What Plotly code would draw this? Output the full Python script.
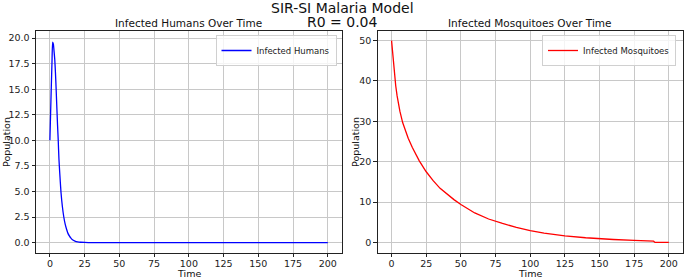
import plotly.graph_objects as go

# Data
t_humans = [0, 0.5, 1, 1.5, 2, 2.5, 3, 3.5, 4, 4.5, 5, 5.5, 6, 6.5, 7, 7.5, 8, 9, 10, 11, 12, 13, 14,
            15, 16, 18, 20, 22, 25, 30, 40, 50, 75, 100, 125, 150, 175, 200]
infected_humans = [10, 12.6, 15.2, 17.6, 19.6, 19.4, 18.7, 17.9, 16.6, 15.0, 13.2, 11.5, 10.0, 8.2, 7.0,
                   5.9, 4.9, 3.5, 2.5, 1.8, 1.3, 0.9, 0.65, 0.45, 0.3, 0.15, 0.07, 0.03, 0.01, 0.0, 0.0,
                   0.0, 0.0, 0.0, 0.0, 0.0, 0.0, 0.0]

t_mosq = [0, 1, 2, 3, 4, 5, 6, 8, 10, 12, 15, 18, 20, 25, 30, 35, 40, 45, 50, 60, 70, 75, 80, 90, 100,
          110, 125, 140, 150, 160, 175, 189, 190, 200]
infected_mosq = [50, 45.5, 42.0, 38.8, 36.3, 34.2, 32.5, 29.7, 27.6, 25.8, 23.5, 21.4, 20.2, 17.5, 15.3,
                 13.4, 11.9, 10.6, 9.4, 7.3, 5.8, 5.2, 4.7, 3.7, 2.9, 2.3, 1.6, 1.15, 0.9, 0.72, 0.5,
                 0.3, 0.0, 0.0]

x_ticks = [0, 25, 50, 75, 100, 125, 150, 175, 200]
yh_ticks = [0, 2.5, 5, 7.5, 10, 12.5, 15, 17.5, 20]
ym_ticks = [0, 10, 20, 30, 40, 50]

W, H = 685, 278
FONT = "DejaVu Sans"

fig = go.Figure()
fig.add_trace(go.Scatter(x=t_humans, y=infected_humans, mode="lines", name="Infected Humans",
                         line=dict(color="blue", width=1.3, shape="spline", smoothing=0.6),
                         xaxis="x", yaxis="y", legend="legend"))
fig.add_trace(go.Scatter(x=t_mosq, y=infected_mosq, mode="lines", name="Infected Mosquitoes",
                         line=dict(color="red", width=1.3), xaxis="x2", yaxis="y2", legend="legend2"))

ydom = [1 - 252.7 / H, 1 - 30.7 / H]
xdom1 = [36 / W, 341.7 / W]
xdom2 = [377.7 / W, 682.7 / W]

axis_common = dict(showline=True, linecolor="#222", linewidth=1, mirror=True, ticks="outside",
                   ticklen=3.5, tickwidth=0.8, tickcolor="#222", showgrid=True, gridcolor="#c8c8c8",
                   gridwidth=0.8, zeroline=False, automargin=False,
                   tickfont=dict(size=9.5, color="#222", family=FONT))

fig.update_layout(
    width=W, height=H, margin=dict(l=0, r=0, t=0, b=0, autoexpand=False),
    paper_bgcolor="white", plot_bgcolor="white",
    font=dict(family=FONT, color="#222"),
    xaxis=dict(domain=xdom1, range=[-10, 210], tickvals=x_ticks, anchor="y", ticklabelstandoff=-2, **axis_common),
    yaxis=dict(domain=ydom, range=[-0.99, 20.72], tickvals=yh_ticks, tickformat=".1f", anchor="x", **axis_common),
    xaxis2=dict(domain=xdom2, range=[-10, 210], tickvals=x_ticks, anchor="y2", ticklabelstandoff=-2, **axis_common),
    yaxis2=dict(domain=ydom, range=[-2.55, 52.45], tickvals=ym_ticks, anchor="x2", **axis_common),
    legend=dict(x=336.5 / W, y=1 - 35 / H, xanchor="right", yanchor="top", bgcolor="rgba(255,255,255,0.8)",
                bordercolor="#d0d0d0", borderwidth=1, font=dict(size=8.5, family=FONT),
                itemwidth=30, tracegroupgap=0),
    legend2=dict(x=676 / W, y=1 - 35 / H, xanchor="right", yanchor="top", bgcolor="rgba(255,255,255,0.8)",
                 bordercolor="#d0d0d0", borderwidth=1, font=dict(size=8.5, family=FONT),
                 itemwidth=30, tracegroupgap=0),
    showlegend=True,
)

annotations = [
    dict(text="SIR-SI Malaria Model", x=0.5, y=1 - 8 / H, font=dict(size=14)),
    dict(text="R0 = 0.04", x=0.5, y=1 - 22 / H, font=dict(size=14)),
    dict(text="Infected Humans Over Time", x=(xdom1[0] + xdom1[1]) / 2, y=1 - 23 / H, font=dict(size=10.5)),
    dict(text="Infected Mosquitoes Over Time", x=(xdom2[0] + xdom2[1]) / 2, y=1 - 23 / H, font=dict(size=10.5)),
    dict(text="Time", x=(xdom1[0] + xdom1[1]) / 2, y=1 - 273.5 / H, font=dict(size=9.5)),
    dict(text="Time", x=(xdom2[0] + xdom2[1]) / 2, y=1 - 273.5 / H, font=dict(size=9.5)),
    dict(text="Population", x=6 / W, y=1 - 142 / H, textangle=-90, font=dict(size=9.5)),
    dict(text="Population", x=355 / W, y=1 - 142 / H, textangle=-90, font=dict(size=9.5)),
]
for a in annotations:
    a.update(xref="paper", yref="paper", showarrow=False, xanchor="center", yanchor="middle")
    a["font"].update(family=FONT, color="#111")
fig.update_layout(annotations=annotations)

fig.write_html("out.html", config={"displayModeBar": False},
               post_script="document.body.style.margin='0';document.body.style.overflow='hidden';")
